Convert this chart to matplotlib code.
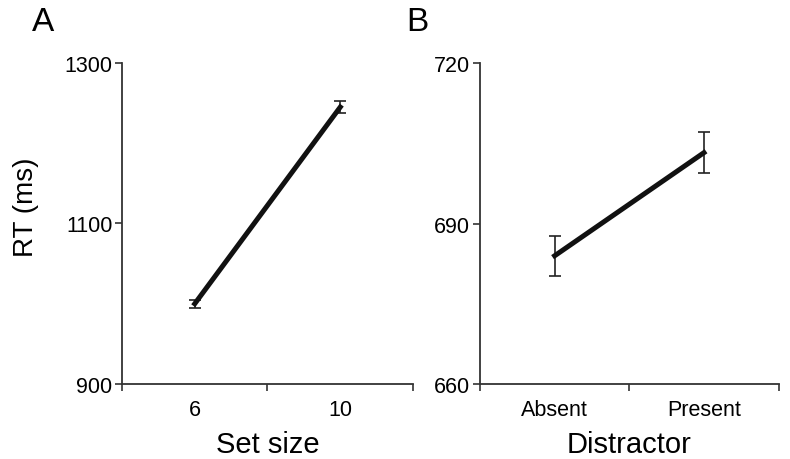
import matplotlib
matplotlib.use("Agg")
import matplotlib.pyplot as plt

plt.rcParams['font.family'] = ['Liberation Sans', 'DejaVu Sans']

# panel A: set size
set_sizes = ['6', '10']
rt_setsize = [1000, 1245]
err_setsize = [5, 7.5]

# panel B: distractor
distractor = ['Absent', 'Present']
rt_distractor = [684.0, 703.3]
err_distractor = [3.7, 3.9]

axis_col = '#333333'

fig = plt.figure(figsize=(7.9, 4.6), dpi=100)
axA = fig.add_axes([0.1544, 0.163, 0.3684, 0.698])
axB = fig.add_axes([0.6076, 0.163, 0.378, 0.697])


def style(ax, cats, ylim, yticks, xlabel):
    x = [i + 0.5 for i in range(len(cats))]
    ax.set_xlim(0, len(cats))
    ax.set_ylim(*ylim)
    ax.set_yticks(yticks)
    ax.set_xticks(range(len(cats) + 1))
    ax.set_xticklabels([])
    ax.set_xticks(x, minor=True)
    ax.set_xticklabels(cats, minor=True)
    ax.tick_params(axis='x', which='minor', length=0, labelsize=15.5, pad=11)
    ax.tick_params(axis='x', which='major', direction='out', length=5,
                   width=1.2, color=axis_col)
    ax.tick_params(axis='y', direction='out', length=5, width=1.2,
                   color=axis_col, labelsize=15.5, pad=2)
    for s in ['top', 'right']:
        ax.spines[s].set_visible(False)
    for s in ['left', 'bottom']:
        ax.spines[s].set_color(axis_col)
        ax.spines[s].set_linewidth(1.3)
    ax.set_xlabel(xlabel, fontsize=21, labelpad=7)
    return x


xa = style(axA, set_sizes, (900, 1300), [900, 1100, 1300], 'Set size')
axA.errorbar(xa, rt_setsize, yerr=err_setsize, color='#111111', lw=3.6,
             ecolor='#222222', elinewidth=1.2, capsize=4.3, capthick=1.2)
axA.set_ylabel('RT (ms)', fontsize=20)
axA.yaxis.set_label_coords(-0.285, 0.555)

xb = style(axB, distractor, (660, 720), [660, 690, 720], 'Distractor')
axB.errorbar(xb, rt_distractor, yerr=err_distractor, color='#111111', lw=3.6,
             ecolor='#222222', elinewidth=1.2, capsize=4.2, capthick=1.2)

fig.text(0.041, 0.952, 'A', fontsize=24, ha='left', va='center')
fig.text(0.514, 0.952, 'B', fontsize=24, ha='left', va='center')

fig.savefig('out.png', dpi=100)
